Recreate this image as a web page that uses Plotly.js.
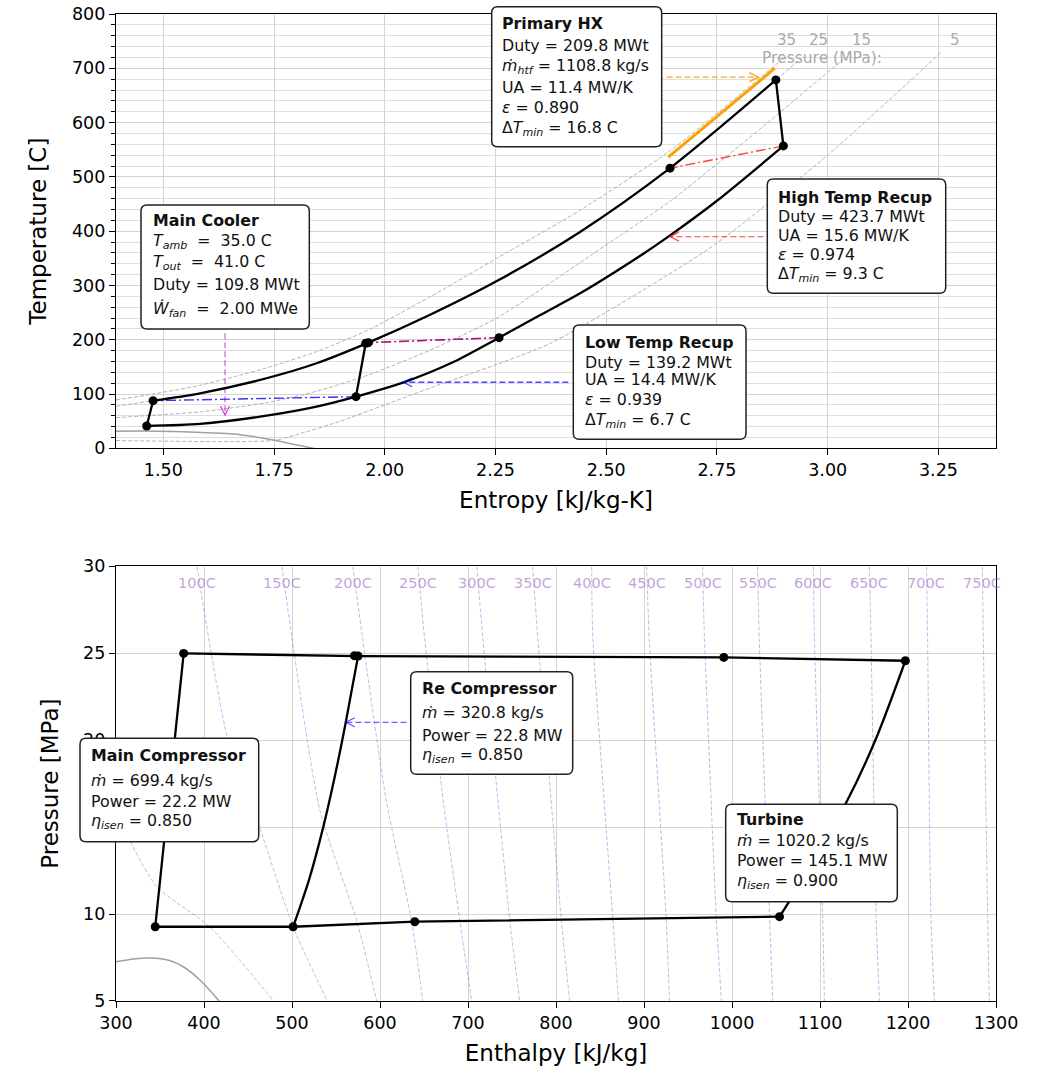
<!DOCTYPE html>
<html><head><meta charset="utf-8">
<script src="https://cdn.plot.ly/plotly-3.0.1.min.js"></script>
<style>body{margin:0;background:#fff}</style>
</head><body><div id="chart" style="width:1046px;height:1067px"></div>
<script>
// ================= DATA =================
// --- T-s diagram: cycle (entropy kJ/kg-K, temperature C) ---
const mcS = [1.4625, 1.477];            const mcT = [41.0, 87.7];
const hpS = [1.477, 1.583, 1.733, 1.846, 1.963, 2.10, 2.253, 2.44, 2.644, 2.883];
const hpT = [87.7, 101.3, 129, 156.6, 194.6, 245, 308, 398, 516, 678.6];
const turbS = [2.883, 2.900];           const turbT = [678.6, 557];
const lpS = [2.900, 2.75, 2.637, 2.583, 2.44, 2.35, 2.258, 2.15, 2.041, 1.935, 1.846, 1.733, 1.583, 1.4625];
const lpT = [557, 456, 388, 358, 285, 245, 203.8, 157, 121, 95.1, 76.7, 60, 44.8, 41.0];
const rcS = [1.935, 1.957];             const rcT = [95.1, 193.5];
const stateS = [1.4625, 1.477, 1.935, 1.957, 1.963, 2.258, 2.644, 2.883, 2.900];
const stateT = [41.0, 87.7, 95.1, 193.5, 194.6, 203.8, 516, 678.6, 557];
// primary HX heat-transfer fluid
const htfS = [2.640, 2.881];            const htfT = [536.2, 700.2];
// recuperator end connections
const htrHotS = [2.900, 2.644];         const htrHotT = [557, 516];
const htrColdS = [2.258, 1.963];        const htrColdT = [203.8, 194.6];
const ltrColdS = [1.935, 1.477];        const ltrColdT = [95.1, 87.7];
// isobars (MPa)
const isobarLabels = ['35', '25', '15', '5'];
const p35S = [1.393, 1.477, 1.583, 1.733, 1.846, 1.963, 2.10, 2.253, 2.44, 2.644, 2.895];
const p35T = [89, 100, 116, 148, 178, 218, 278, 350, 438, 548, 715];
const p25S = [1.393, 1.477, 1.583, 1.733, 1.846, 1.963, 2.10, 2.253, 2.44, 2.644, 2.883, 2.94];
const p25T = [77, 87.7, 101.3, 129, 156.6, 194.6, 245, 308, 398, 516, 678.6, 718];
const p15S = [1.393, 1.50, 1.583, 1.733, 1.846, 1.963, 2.10, 2.253, 2.493, 2.644, 2.85, 3.04];
const p15T = [56.4, 62, 67, 84, 105, 135, 180, 240, 371, 455, 590, 720];
const p5S = [1.393, 1.748, 1.80, 1.90, 2.0, 2.109, 2.373, 2.734, 3.0, 3.258];
const p5T = [14.3, 14.3, 25, 50, 80, 113, 193, 369, 540, 731];
// saturation dome
const domeS = [1.393, 1.45, 1.522, 1.60, 1.658, 1.70, 1.748, 1.79, 1.838, 1.87];
const domeT = [31.5, 31.9, 31.0, 28.5, 26.3, 22, 15.3, 8, 0, -6];
// arrows on T-s: [tailS, tipS, T]
const arrowPHX = [2.6366, 2.8434, 683.6];
const arrowHTR = [2.8547, 2.6440, 389.9];
const arrowLTR = [2.4144, 2.0419, 121.6];
const arrowCooler = [1.6393, 211.9, 61.4]; // [s, tailT, tipT]

// --- P-h diagram: cycle (enthalpy kJ/kg, pressure MPa) ---
const phMcH = [344.6, 376.9];                     const phMcP = [9.27, 24.99];
const phHpH = [376.9, 571, 575.1, 990.7, 1197];  const phHpP = [24.99, 24.86, 24.84, 24.76, 24.57];
const phTurbH = [1197, 1163, 1129.4, 1064, 1054]; const phTurbP = [24.57, 20.01, 16.37, 10.64, 9.85];
const phLpH = [1054, 639.5, 501.3, 344.6];       const phLpP = [9.85, 9.56, 9.27, 9.27];
const phRcH = [501.3, 519.5, 535.5, 549, 561, 575.1]; const phRcP = [9.27, 12.0, 15.0, 18.0, 21.0, 24.84];
const phStateH = [344.6, 376.9, 501.3, 571, 575.1, 639.5, 990.7, 1197, 1054];
const phStateP = [9.27, 24.99, 9.27, 24.86, 24.84, 9.56, 24.76, 24.57, 9.85];
const phDomeH = [300, 320, 340, 360, 376.4, 395.4, 416.2, 422];
const phDomeP = [7.26, 7.42, 7.47, 7.34, 6.97, 6.21, 5.06, 4.7];
const arrowRC = [630.1, 561.2, 21.03];
// isotherms (C)
const isoT = [50, 100, 150, 200, 250, 300, 350, 400, 450, 500, 550, 600, 650, 700, 750];
const isoH = [
  [300, 315.9, 346.6, 406.7, 478.3],
  [392, 426.4, 464.2, 501.3, 539.6],
  [488.5, 531.6, 573.3, 596.4],
  [569, 607, 635.7, 648.6],
  [643, 650.9, 671.7, 690.6, 704.2],
  [710, 717, 734, 747.4, 758.7],
  [773.5, 779.5, 806, 815.5],
  [840.5, 842, 864.7, 871],
  [903, 906, 925.3, 929],
  [966.5, 968.8, 982, 988],
  [1029, 1031, 1042.6, 1046.4],
  [1092.5, 1093.7, 1103, 1105],
  [1156, 1158, 1163.7, 1167.5],
  [1221, 1222.3, 1226, 1230],
  [1284.5, 1285.6, 1290.5, 1292.4]
];
const isoP = [
  [17.5, 14.26, 11.56, 9.26, 5.06],
  [30, 20.2, 14.83, 9.26, 5.06],
  [30, 15.98, 9.66, 5],
  [30, 16.56, 9.66, 5],
  [30, 25.76, 16.56, 9.66, 5],
  [30, 25.76, 16.56, 9.66, 5],
  [30, 25.76, 9.66, 5],
  [30, 25.76, 9.66, 5],
  [30, 25.76, 9.66, 5],
  [30, 25.76, 9.95, 5],
  [30, 25.76, 9.95, 5],
  [30, 25.76, 9.95, 5],
  [30, 25.76, 9.95, 5],
  [30, 25.76, 9.95, 5],
  [30, 25.76, 9.95, 5]
];
// component text
const txtPHX = ['<b>Primary HX</b>', 'Duty = 209.8 MWt', '<i>ṁ</i><sub><i>htf</i></sub> = 1108.8 kg/s', 'UA = 11.4 MW/K', '<i>ε</i> = 0.890', 'Δ<i>T</i><sub><i>min</i></sub> = 16.8 C'];
const txtHTR = ['<b>High Temp Recup</b>', 'Duty = 423.7 MWt', 'UA = 15.6 MW/K', '<i>ε</i> = 0.974', 'Δ<i>T</i><sub><i>min</i></sub> = 9.3 C'];
const txtLTR = ['<b>Low Temp Recup</b>', 'Duty = 139.2 MWt', 'UA = 14.4 MW/K', '<i>ε</i> = 0.939', 'Δ<i>T</i><sub><i>min</i></sub> = 6.7 C'];
const txtCooler = ['<b>Main Cooler</b>', '<i>T</i><sub><i>amb</i></sub>\u00a0 = \u00a035.0 C', '<i>T</i><sub><i>out</i></sub>\u00a0 = \u00a041.0 C', 'Duty = 109.8 MWt', '<i>Ẇ</i><sub><i>fan</i></sub>\u00a0 = \u00a02.00 MWe'];
const txtRC = ['<b>Re Compressor</b>', '<i>ṁ</i> = 320.8 kg/s', 'Power = 22.8 MW', '<i>η</i><sub><i>isen</i></sub> = 0.850'];
const txtMC = ['<b>Main Compressor</b>', '<i>ṁ</i> = 699.4 kg/s', 'Power = 22.2 MW', '<i>η</i><sub><i>isen</i></sub> = 0.850'];
const txtTurb = ['<b>Turbine</b>', '<i>ṁ</i> = 1020.2 kg/s', 'Power = 145.1 MW', '<i>η</i><sub><i>isen</i></sub> = 0.900'];

// ================= DRAWING =================
const FONT = 'DejaVu Sans, sans-serif';
const pxX = x => (x - 116) / 880;
const pxY = y => (1001 - y) / 987;

function ln(x, y, xa, ya, lineOpts, extra) {
  return Object.assign({type: 'scatter', mode: 'lines', x: x, y: y, xaxis: xa, yaxis: ya,
    hoverinfo: 'skip', line: lineOpts}, extra || {});
}
const ISOB = {color: '#a9a9a9', width: 0.9, dash: '4px,2px', shape: 'spline', smoothing: 0.6};
const CYC = {color: '#000', width: 2.3};
const CYCS = {color: '#000', width: 2.3, shape: 'spline', smoothing: 0.8};
const ISOT = {color: 'rgba(130,90,220,0.5)', width: 0.9, dash: '4px,2px', shape: 'spline', smoothing: 0.6};
const ARROWDASH = '6px,3px';
const DASHDOT = '10px,3px,2px,3px';

const traces = [];
// top: isobars + dome
[[p35S, p35T], [p25S, p25T], [p15S, p15T], [p5S, p5T]].forEach(a => traces.push(ln(a[0], a[1], 'x', 'y', ISOB)));
traces.push(ln(domeS, domeT, 'x', 'y', {color: '#a0a0a0', width: 1.5, shape: 'spline', smoothing: 0.6}));
// arrow lines (dashed)
traces.push(ln([arrowPHX[0], arrowPHX[1]], [arrowPHX[2], arrowPHX[2]], 'x', 'y', {color: 'rgba(255,150,0,0.85)', width: 1.3, dash: ARROWDASH}));
traces.push(ln([arrowHTR[0], arrowHTR[1]], [arrowHTR[2], arrowHTR[2]], 'x', 'y', {color: 'rgba(255,0,0,0.6)', width: 1.3, dash: ARROWDASH}));
traces.push(ln([arrowLTR[0], arrowLTR[1]], [arrowLTR[2], arrowLTR[2]], 'x', 'y', {color: 'rgba(0,0,255,0.7)', width: 1.3, dash: ARROWDASH}));
traces.push(ln([arrowCooler[0], arrowCooler[0]], [arrowCooler[1], arrowCooler[2]], 'x', 'y', {color: 'rgba(191,0,191,0.6)', width: 1.3, dash: ARROWDASH}));
// recuperator connections
traces.push(ln(ltrColdS, ltrColdT, 'x', 'y', {color: 'rgba(0,0,255,0.8)', width: 1.4, dash: DASHDOT}));
traces.push(ln(htrColdS, htrColdT, 'x', 'y', {color: 'rgba(0,0,255,0.8)', width: 1.4, dash: DASHDOT}));
traces.push(ln(htrColdS, htrColdT, 'x', 'y', {color: 'rgba(255,0,0,0.65)', width: 1.4, dash: DASHDOT}));
traces.push(ln(htrHotS, htrHotT, 'x', 'y', {color: 'rgba(255,0,0,0.75)', width: 1.4, dash: DASHDOT}));
// HTF
traces.push(ln(htfS, htfT, 'x', 'y', {color: '#ffa000', width: 3}));
// cycle
traces.push(ln(mcS, mcT, 'x', 'y', CYC));
traces.push(ln(hpS, hpT, 'x', 'y', CYCS));
traces.push(ln(turbS, turbT, 'x', 'y', CYC));
traces.push(ln(lpS, lpT, 'x', 'y', CYCS));
traces.push(ln(rcS, rcT, 'x', 'y', CYC));
traces.push({type: 'scatter', mode: 'markers', x: stateS, y: stateT, xaxis: 'x', yaxis: 'y', hoverinfo: 'skip',
  marker: {color: '#000', size: 9}});

// bottom: isotherms + dome
isoH.forEach((h, i) => traces.push(ln(h, isoP[i], 'x2', 'y2', ISOT)));
traces.push(ln(phDomeH, phDomeP, 'x2', 'y2', {color: '#a0a0a0', width: 1.5, shape: 'spline', smoothing: 0.7}));
traces.push(ln([arrowRC[0], arrowRC[1]], [arrowRC[2], arrowRC[2]], 'x2', 'y2', {color: 'rgba(0,0,255,0.6)', width: 1.3, dash: ARROWDASH}));
traces.push(ln(phMcH, phMcP, 'x2', 'y2', CYC));
traces.push(ln(phHpH, phHpP, 'x2', 'y2', CYC));
traces.push(ln(phTurbH, phTurbP, 'x2', 'y2', CYCS));
traces.push(ln(phLpH, phLpP, 'x2', 'y2', CYC));
traces.push(ln(phRcH, phRcP, 'x2', 'y2', CYCS));
traces.push({type: 'scatter', mode: 'markers', x: phStateH, y: phStateP, xaxis: 'x2', yaxis: 'y2', hoverinfo: 'skip',
  marker: {color: '#000', size: 9}});

// ---------- shapes & annotations ----------
const shapes = [];
const annotations = [];

function head(xref, yref, x, y, dir, color) {
  const L = 9, W = 4.5;
  let path;
  if (dir === 'right') path = `M ${-L} ${W} L 0 0 L ${-L} ${-W}`;
  else if (dir === 'left') path = `M ${L} ${W} L 0 0 L ${L} ${-W}`;
  else path = `M ${-W} ${L} L 0 0 L ${W} ${L}`;
  shapes.push({type: 'path', xref: xref, yref: yref, xsizemode: 'pixel', ysizemode: 'pixel',
    xanchor: x, yanchor: y, path: path, line: {color: color, width: 1.3}, layer: 'above'});
}
head('x', 'y', arrowPHX[1], arrowPHX[2], 'right', 'rgba(255,150,0,0.9)');
head('x', 'y', arrowHTR[1], arrowHTR[2], 'left', 'rgba(255,0,0,0.7)');
head('x', 'y', arrowLTR[1], arrowLTR[2], 'left', 'rgba(0,0,255,0.75)');
head('x', 'y', arrowCooler[0], arrowCooler[2], 'down', 'rgba(191,0,191,0.7)');
head('x2', 'y2', arrowRC[1], arrowRC[2], 'left', 'rgba(0,0,255,0.65)');

function roundBox(x0, y0, x1, y1, r) {
  const p = (x, y) => pxX(x).toFixed(5) + ',' + pxY(y).toFixed(5);
  return `M${p(x0 + r, y0)} L${p(x1 - r, y0)} Q${p(x1, y0)} ${p(x1, y0 + r)} L${p(x1, y1 - r)} ` +
    `Q${p(x1, y1)} ${p(x1 - r, y1)} L${p(x0 + r, y1)} Q${p(x0, y1)} ${p(x0, y1 - r)} L${p(x0, y0 + r)} ` +
    `Q${p(x0, y0)} ${p(x0 + r, y0)} Z`;
}
function textBox(b, lines, ys) {
  shapes.push({type: 'path', xref: 'paper', yref: 'paper', path: roundBox(b[0], b[1], b[2], b[3], 6),
    fillcolor: '#ffffff', line: {color: '#222', width: 1.5}, layer: 'above'});
  lines.forEach((t, i) => annotations.push({xref: 'paper', yref: 'paper', x: pxX(b[4]), y: pxY(ys[i]),
    xanchor: 'left', yanchor: 'middle', showarrow: false, text: t, align: 'left',
    font: {family: FONT, size: 15.8, color: '#111'}}));
}
textBox([491.7, 6.7, 661.7, 146.7, 499.5], txtPHX, [24, 45, 66, 87.5, 107.5, 128.5]);
textBox([767.3, 179, 945.7, 293.3, 775.5], txtHTR, [197.3, 216.7, 235, 254.5, 274.3]);
textBox([573.3, 325, 746, 439.3, 582.5], txtLTR, [342.7, 362, 379.3, 400, 420]);
textBox([141, 205, 309.3, 329, 150.5], txtCooler, [220.7, 241.7, 263, 284, 309]);
textBox([410.7, 671.7, 572.7, 774.3, 419.5], txtRC, [688.3, 712.7, 735, 755]);
textBox([80, 738.3, 258.7, 841.7, 88.5], txtMC, [755, 780, 801, 821.7]);
textBox([725.7, 804.3, 897.3, 901.7, 734.5], txtTurb, [819, 840, 860.7, 881.7]);

// isobar labels
const isobarLabelS = [2.908, 2.980, 3.077, 3.287];
isobarLabels.forEach((t, i) => annotations.push({xref: 'x', yref: 'y', x: isobarLabelS[i], y: 752, text: t,
  showarrow: false, font: {family: FONT, size: 15, color: '#a9a9a9'}}));
annotations.push({xref: 'x', yref: 'y', x: 2.987, y: 719, text: 'Pressure (MPa):', showarrow: false,
  font: {family: FONT, size: 15.5, color: '#a9a9a9'}});
// isotherm labels
isoT.forEach((t, i) => { if (isoP[i][0] >= 30) annotations.push({xref: 'x2', yref: 'y2', x: isoH[i][0], y: 29.05,
  text: t + 'C', showarrow: false, font: {family: FONT, size: 14.5, color: 'rgba(148,103,189,0.6)'}}); });

const axBase = {ticks: 'outside', ticklen: 6, tickwidth: 1, tickcolor: '#000', showline: true, mirror: true,
  linecolor: '#000', linewidth: 1.2, showgrid: true, gridcolor: '#d4d4d4', gridwidth: 1, zeroline: false,
  tickfont: {family: FONT, size: 17.5, color: '#000'}};
const titleFont = {family: FONT, size: 23, color: '#000'};

const layout = {
  width: 1046, height: 1067, margin: {l: 116, r: 50, t: 14, b: 66}, autosize: false,
  paper_bgcolor: '#fff', plot_bgcolor: '#fff', showlegend: false,
  font: {family: FONT},
  xaxis: Object.assign({}, axBase, {domain: [0, 1], anchor: 'y', range: [1.3932, 3.380], tick0: 1.5, dtick: 0.25,
    tickformat: '.2f', title: {text: 'Entropy [kJ/kg-K]', font: titleFont, standoff: 12}}),
  yaxis: Object.assign({}, axBase, {domain: [0.560, 1], anchor: 'x', range: [0, 800], dtick: 100,
    minor: {dtick: 20, ticks: 'outside', ticklen: 3.5, tickcolor: '#000', showgrid: true, gridcolor: '#dedede', gridwidth: 1},
    title: {text: 'Temperature [C]', font: titleFont, standoff: 18}}),
  xaxis2: Object.assign({}, axBase, {domain: [0, 1], anchor: 'y2', range: [300, 1300], dtick: 100,
    title: {text: 'Enthalpy [kJ/kg]', font: titleFont, standoff: 12}}),
  yaxis2: Object.assign({}, axBase, {domain: [0, 0.4404], anchor: 'x2', range: [5, 30], dtick: 5,
    title: {text: 'Pressure [MPa]', font: titleFont, standoff: 18}}),
  shapes: shapes, annotations: annotations
};

Plotly.newPlot('chart', traces, layout, {staticPlot: true, displayModeBar: false});
</script>
</body></html>
